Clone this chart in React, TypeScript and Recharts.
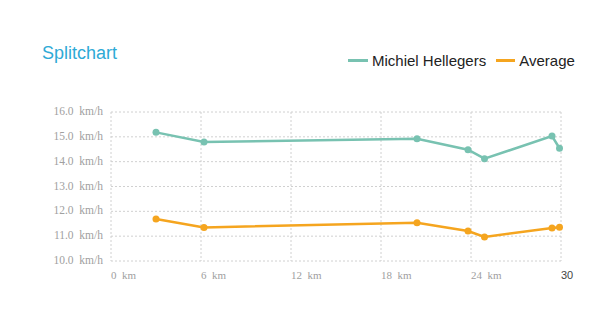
import React from 'react'
import { LineChart, Line, XAxis, YAxis, CartesianGrid } from 'recharts'

const distances = [3.0, 6.2, 20.4, 23.8, 24.9, 29.4, 29.9]
const michielSpeed = [15.18, 14.79, 14.92, 14.48, 14.12, 15.03, 14.54]
const averageSpeed = [11.69, 11.35, 11.54, 11.21, 10.97, 11.33, 11.36]
const xTicks = [0, 6, 12, 18, 24, 30]
const yTicks = [10, 11, 12, 13, 14, 15, 16]

const GREEN = '#78c2b1'
const ORANGE = '#f5a51f'

const data = distances.map((km, i) => ({
  km,
  michiel: michielSpeed[i],
  average: averageSpeed[i],
}))

const XTick = ({ x, y, payload }: any) => {
  const last = payload.value === 30
  return (
    <text
      x={x}
      y={y + 10}
      textAnchor="start"
      fill={last ? '#444' : '#a0a0a0'}
      fontSize={11}
      fontFamily={last ? 'Arial, "Liberation Sans", sans-serif' : '"Liberation Serif", serif'}
      style={{ whiteSpace: 'pre' }}
    >
      {last ? '30' : `${payload.value}  km`}
    </text>
  )
}

const YTick = ({ x, y, payload }: any) => (
  <text
    x={x}
    y={y + 3}
    textAnchor="end"
    fill="#a0a0a0"
    fontSize={11.5}
    fontFamily='"Liberation Serif", serif'
    style={{ whiteSpace: 'pre' }}
  >
    {`${payload.value.toFixed(1)}  km/h`}
  </text>
)

export default function App() {
  return (
    <div style={{ position: 'absolute', left: 0, top: 0, width: 616, height: 310, background: '#fff' }}>
      <div
        style={{
          position: 'absolute',
          left: 42,
          top: 43,
          fontFamily: 'Arial, "Liberation Sans", sans-serif',
          fontSize: 18,
          color: '#2eaad6',
        }}
      >
        Splitchart
      </div>
      <div
        style={{
          position: 'absolute',
          left: 348,
          top: 52,
          display: 'flex',
          alignItems: 'center',
          fontFamily: 'Arial, "Liberation Sans", sans-serif',
          fontSize: 15,
          color: '#222',
        }}
      >
        <span style={{ display: 'inline-block', width: 20, height: 3, background: GREEN, marginRight: 4 }} />
        <span>Michiel Hellegers</span>
        <span style={{ display: 'inline-block', width: 19, height: 3, background: ORANGE, marginLeft: 10, marginRight: 4 }} />
        <span>Average</span>
      </div>
      <LineChart width={616} height={310} data={data} margin={{ top: 112, right: 55, left: 0, bottom: 0 }}>
        <CartesianGrid stroke="#d0d0d0" strokeDasharray="2 2" />
        <XAxis
          dataKey="km"
          type="number"
          domain={[0, 30]}
          ticks={xTicks}
          axisLine={false}
          tickLine={false}
          height={49}
          tick={<XTick />}
        />
        <YAxis
          type="number"
          domain={[10, 16]}
          ticks={yTicks}
          axisLine={false}
          tickLine={false}
          width={111}
          tick={<YTick />}
        />
        <Line
          dataKey="michiel"
          stroke={GREEN}
          strokeWidth={2.5}
          dot={{ r: 3.5, fill: GREEN, stroke: GREEN, strokeWidth: 0 }}
          isAnimationActive={false}
        />
        <Line
          dataKey="average"
          stroke={ORANGE}
          strokeWidth={2.5}
          dot={{ r: 3.5, fill: ORANGE, stroke: ORANGE, strokeWidth: 0 }}
          isAnimationActive={false}
        />
      </LineChart>
    </div>
  )
}
